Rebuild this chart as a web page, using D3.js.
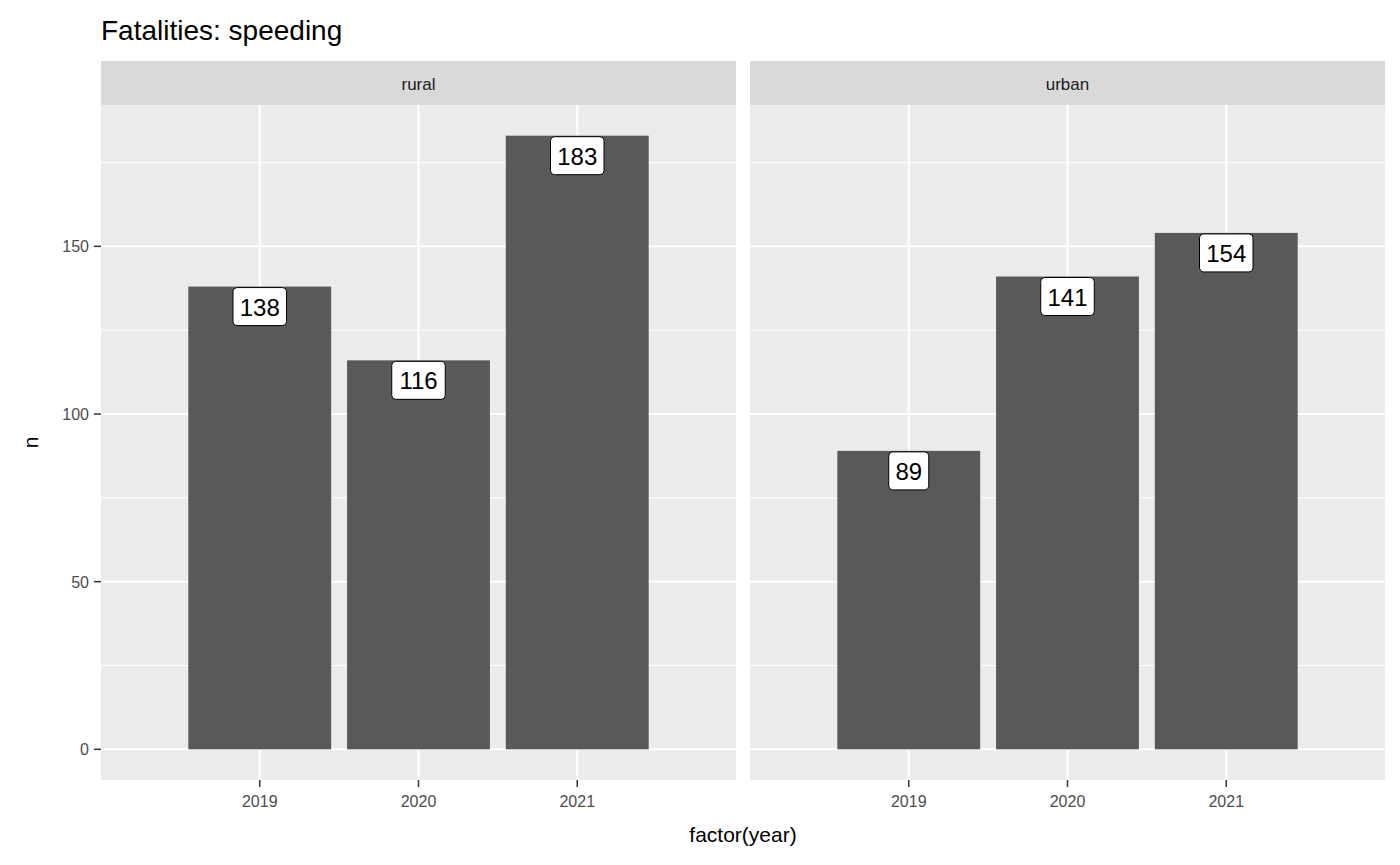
<!DOCTYPE html>
<html>
<head>
<meta charset="utf-8">
<script src="https://cdn.jsdelivr.net/npm/d3@7"></script>
<style>
  body { margin: 0; background: #fff; }
  text { font-family: Arial, "Liberation Sans", sans-serif; }
</style>
</head>
<body>
<svg id="chart" width="1400" height="865"></svg>
<script>
// data
const facets = ["rural", "urban"];
const years = ["2019", "2020", "2021"];
const ruralValues = [138, 116, 183];
const urbanValues = [89, 141, 154];
const yTicks = [0, 50, 100, 150];
const yMinor = [25, 75, 125, 175];

const seriesByFacet = { rural: ruralValues, urban: urbanValues };

const svg = d3.select('#chart');
const panelTop = 105, panelBottom = 780;
const panelW = 635, panelX = [101, 750];

const maxV = d3.max(ruralValues.concat(urbanValues));
const y = d3.scaleLinear()
    .domain([-maxV * 0.05, maxV * 1.05])
    .range([panelBottom, panelTop]);

const x = d3.scaleBand()
    .domain(years)
    .range([0, panelW])
    .paddingInner(0.1)
    .paddingOuter(0.55);

// title
svg.append('text')
    .attr('x', 101).attr('y', 40)
    .style('font-size', '28px').style('fill', '#000')
    .text('Fatalities: speeding');

facets.forEach(function (f, i) {
    const g = svg.append('g').attr('transform', `translate(${panelX[i]},0)`);

    // strip
    g.append('rect').attr('x', 0).attr('y', 61).attr('width', panelW).attr('height', panelTop - 61)
        .attr('fill', '#d9d9d9');
    g.append('text').attr('x', panelW / 2).attr('y', 90)
        .attr('text-anchor', 'middle').style('font-size', '17px').style('fill', '#1a1a1a')
        .text(f);

    // panel
    g.append('rect').attr('x', 0).attr('y', panelTop).attr('width', panelW).attr('height', panelBottom - panelTop)
        .attr('fill', '#ebebeb');

    g.selectAll('.minor').data(yMinor).join('line')
        .attr('x1', 0).attr('x2', panelW)
        .attr('y1', d => y(d)).attr('y2', d => y(d))
        .attr('stroke', '#fff').attr('stroke-width', 1);
    g.selectAll('.major').data(yTicks).join('line')
        .attr('x1', 0).attr('x2', panelW)
        .attr('y1', d => y(d)).attr('y2', d => y(d))
        .attr('stroke', '#fff').attr('stroke-width', 2);
    g.selectAll('.vgrid').data(years).join('line')
        .attr('x1', d => x(d) + x.bandwidth() / 2).attr('x2', d => x(d) + x.bandwidth() / 2)
        .attr('y1', panelTop).attr('y2', panelBottom)
        .attr('stroke', '#fff').attr('stroke-width', 2);

    const vals = seriesByFacet[f];
    const data = years.map((yr, j) => ({ year: yr, n: vals[j] }));

    g.selectAll('.bar').data(data).join('rect')
        .attr('x', d => x(d.year)).attr('width', x.bandwidth())
        .attr('y', d => y(d.n)).attr('height', d => y(0) - y(d.n))
        .attr('fill', '#595959');

    // labels
    const lab = g.selectAll('.lab').data(data).join('g')
        .attr('transform', d => `translate(${x(d.year) + x.bandwidth() / 2},${y(d.n)})`);
    lab.append('rect')
        .attr('x', d => -(String(d.n).length * 13.5 + 13) / 2)
        .attr('width', d => String(d.n).length * 13.5 + 13)
        .attr('y', 1).attr('height', 38)
        .attr('rx', 4).attr('fill', '#fff').attr('stroke', '#000').attr('stroke-width', 1);
    lab.append('text').attr('y', 29).attr('text-anchor', 'middle')
        .style('font-size', '24px').style('fill', '#000')
        .text(d => d.n);

    // x axis
    g.selectAll('.xt').data(years).join('line')
        .attr('x1', d => x(d) + x.bandwidth() / 2).attr('x2', d => x(d) + x.bandwidth() / 2)
        .attr('y1', panelBottom).attr('y2', panelBottom + 7)
        .attr('stroke', '#333').attr('stroke-width', 1.5);
    g.selectAll('.xl').data(years).join('text')
        .attr('x', d => x(d) + x.bandwidth() / 2).attr('y', panelBottom + 27)
        .attr('text-anchor', 'middle').style('font-size', '16px').style('fill', '#4d4d4d')
        .text(d => d);
});

// y axis
const ya = svg.append('g');
ya.selectAll('line').data(yTicks).join('line')
    .attr('x1', 94).attr('x2', 101).attr('y1', d => y(d)).attr('y2', d => y(d))
    .attr('stroke', '#333').attr('stroke-width', 1.5);
ya.selectAll('text').data(yTicks).join('text')
    .attr('x', 89).attr('y', d => y(d) + 6).attr('text-anchor', 'end')
    .style('font-size', '16px').style('fill', '#4d4d4d')
    .text(d => d);

svg.append('text').attr('x', 743).attr('y', 842).attr('text-anchor', 'middle')
    .style('font-size', '21px').style('fill', '#000').text('factor(year)');
svg.append('text').attr('transform', `translate(38,${(panelTop + panelBottom) / 2}) rotate(-90)`)
    .attr('text-anchor', 'middle').style('font-size', '21px').style('fill', '#000').text('n');
</script>
</body>
</html>
